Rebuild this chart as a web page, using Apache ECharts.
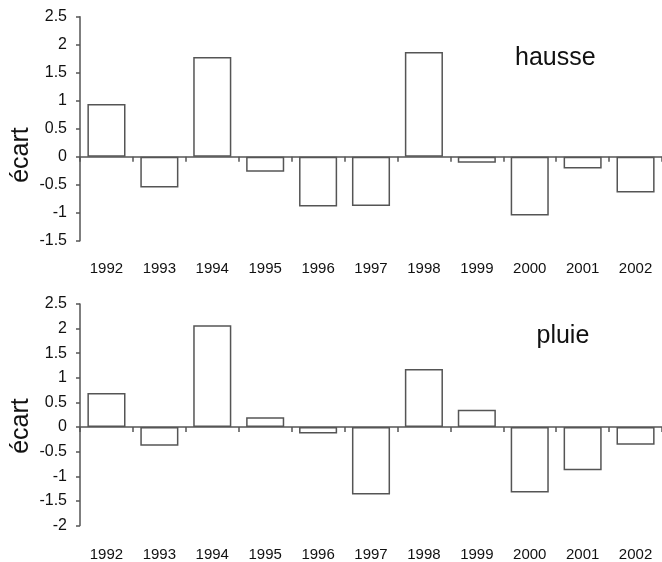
<!DOCTYPE html>
<html>
<head>
<meta charset="utf-8">
<script src="https://cdn.jsdelivr.net/npm/echarts@6/dist/echarts.min.js"></script>
<style>html,body{margin:0;padding:0;background:#fff}#c{width:662px;height:562px}</style>
</head>
<body>
<div id="c"></div>
<script>
var years = ['1992','1993','1994','1995','1996','1997','1998','1999','2000','2001','2002'];
var hausse = [0.94, -0.55, 1.78, -0.27, -0.89, -0.88, 1.87, -0.11, -1.05, -0.21, -0.64];
var pluie = [0.69, -0.38, 2.07, 0.20, -0.13, -1.37, 1.18, 0.35, -1.33, -0.88, -0.36];
var topRange = {min: -1.5, max: 2.5, interval: 0.5};
var bottomRange = {min: -2, max: 2.5, interval: 0.5};
var yName = 'écart';
var titles = ['hausse', 'pluie'];

var FONT = '"Liberation Sans", Arial, sans-serif';
var LINE = '#555';
var TEXT = '#111';

function labelAxis(g, m) {
  return {
    type: 'category', gridIndex: g, data: years, position: 'bottom',
    axisLine: {show: false, onZero: false}, axisTick: {show: false},
    axisLabel: {margin: m, fontSize: 15, color: TEXT, fontFamily: FONT}
  };
}
function zeroAxis(g) {
  return {
    type: 'category', gridIndex: g, data: years, position: 'top',
    axisLine: {show: true, onZero: true, lineStyle: {color: LINE, width: 1.5}},
    axisTick: {show: true, inside: true, length: 5, alignWithLabel: false, lineStyle: {color: LINE, width: 1.5}},
    axisLabel: {show: false}
  };
}
function yAxis(g, r) {
  return {
    type: 'value', gridIndex: g, min: r.min, max: r.max, interval: r.interval,
    axisLine: {show: true, lineStyle: {color: LINE, width: 1.5}},
    axisTick: {show: true, length: 4, lineStyle: {color: LINE, width: 1.5}},
    splitLine: {show: false},
    axisLabel: {margin: 13, fontSize: 16, color: TEXT, fontFamily: FONT}
  };
}
function bars(g, d) {
  return {
    type: 'bar', xAxisIndex: g * 2, yAxisIndex: g, data: d, barWidth: '72%',
    itemStyle: {color: '#fff', borderColor: LINE, borderWidth: 1.5},
    silent: true, animation: false
  };
}

var chart = echarts.init(document.getElementById('c'), null, {renderer: 'canvas'});
chart.setOption({
  animation: false,
  textStyle: {fontFamily: FONT},
  grid: [
    {left: 80, top: 16.7, height: 224, right: -6.5, containLabel: false},
    {left: 80, top: 304, height: 224.3, right: -6.5, containLabel: false}
  ],
  xAxis: [labelAxis(0, 20.5), zeroAxis(0), labelAxis(1, 21.5), zeroAxis(1)],
  yAxis: [yAxis(0, topRange), yAxis(1, bottomRange)],
  series: [bars(0, hausse), bars(1, pluie)],
  graphic: [
    {type: 'text', x: 21.5, y: 155, rotation: Math.PI / 2,
     style: {text: yName, font: '25px ' + FONT, fill: TEXT, align: 'center', verticalAlign: 'middle'}},
    {type: 'text', x: 21.5, y: 426, rotation: Math.PI / 2,
     style: {text: yName, font: '25px ' + FONT, fill: TEXT, align: 'center', verticalAlign: 'middle'}},
    {type: 'text', x: 515, y: 58.5,
     style: {text: titles[0], font: '25px ' + FONT, fill: TEXT, align: 'left', verticalAlign: 'middle'}},
    {type: 'text', x: 536.5, y: 336,
     style: {text: titles[1], font: '25px ' + FONT, fill: TEXT, align: 'left', verticalAlign: 'middle'}}
  ]
});
</script>
</body>
</html>
